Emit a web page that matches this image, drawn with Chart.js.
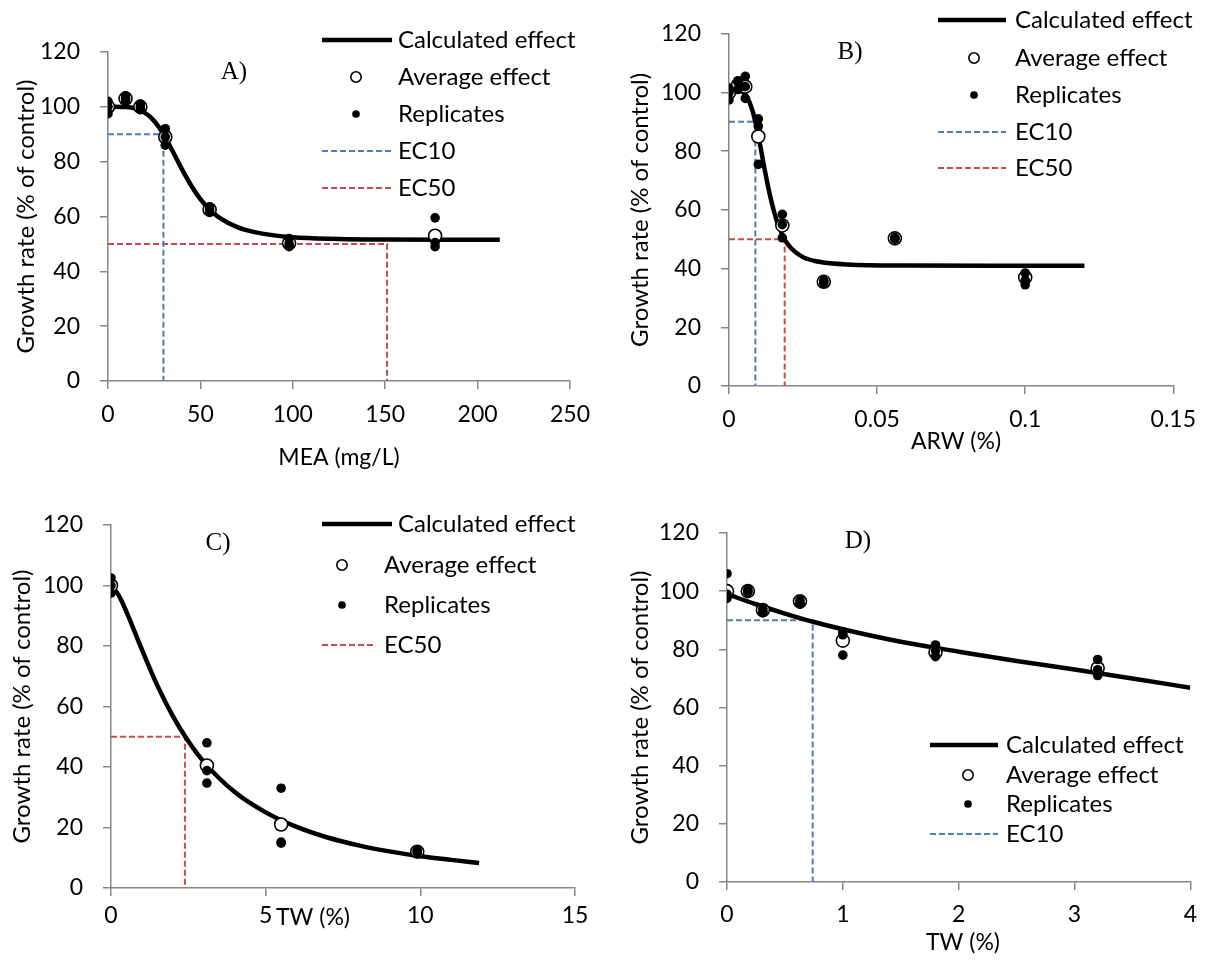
<!DOCTYPE html>
<html>
<head>
<meta charset="utf-8">
<script src="https://cdn.jsdelivr.net/npm/chart.js@4.4.0/dist/chart.umd.min.js"></script>
<style>
  html, body { margin: 0; padding: 0; background: #fff; }
  #page { position: relative; width: 1208px; height: 960px; }
  .panel { position: absolute; width: 604px; height: 480px; }
</style>
</head>
<body>
<div id="page">
  <div class="panel" style="left:0;top:0"><canvas id="chartA" width="604" height="480"></canvas></div>
  <div class="panel" style="left:604px;top:0"><canvas id="chartB" width="604" height="480"></canvas></div>
  <div class="panel" style="left:0;top:480px"><canvas id="chartC" width="604" height="480"></canvas></div>
  <div class="panel" style="left:604px;top:480px"><canvas id="chartD" width="604" height="480"></canvas></div>
</div>
<script>
// ---- panel A: MEA (mg/L)
const concA = [0, 9.5, 17.5, 31, 55, 98, 177];
const avgA = [100, 103, 100, 89, 62.5, 50.3, 53];
const repA = [[102, 100, 97.5], [104, 103, 102], [101, 100, 99], [92, 89, 86], [63.5, 62.5, 61.5], [52, 50, 49], [59.5, 50.5, 49]];
const curveXA = [0, 10, 20, 25, 30, 35, 40, 45, 50, 55, 60, 70, 80, 100, 125, 150, 180, 212];
const curveYA = [100, 99.9, 97.8, 94.8, 90, 83.8, 77.3, 71.3, 66.3, 62.5, 59.7, 56.1, 54.2, 52.4, 51.8, 51.6, 51.5, 51.5];
const ec10A = [30, 90];
const ec50A = [151, 50];
const xTicksA = ['0', '50', '100', '150', '200', '250'];

// ---- panel B: ARW (%)
const concB = [0, 0.003, 0.0055, 0.0099, 0.018, 0.032, 0.056, 0.1];
const avgB = [100, 102.5, 102, 85, 54.7, 35.5, 50.3, 37];
const repB = [[97.5, 100, 101.5], [101, 103.5, 104], [105.5, 102, 98], [91, 88.5, 75.5], [58.5, 55, 50.5], [35, 36, 35.5], [50, 50.5, 50.5], [38.5, 36, 34.5]];
const curveXB = [0, 0.004, 0.006, 0.008, 0.01, 0.012, 0.014, 0.016, 0.018, 0.02, 0.025, 0.03, 0.04, 0.06, 0.09, 0.12];
const curveYB = [101, 100.6, 98.6, 93.6, 84.8, 74, 64.2, 56.7, 51.5, 48.1, 43.9, 42.4, 41.4, 41.05, 41, 41];
const ec10B = [0.0089, 90];
const ec50B = [0.0188, 50];
const xTicksB = ['0', '0.05', '0.1', '0.15'];

// ---- panel C: TW (%)
const concC = [0, 3.1, 5.5, 9.9];
const avgC = [100, 40.5, 21, 12];
const repC = [[102.5, 100, 97.5], [48, 38.8, 34.7], [33, 15.2, 14.8], [12.5, 12, 11.5]];
const curveXC = [0, 0.25, 0.5, 1, 1.5, 2, 2.5, 3, 4, 5, 6, 7, 8, 9, 10, 11, 11.9];
const curveYC = [100, 96.7, 91.3, 78.8, 66.9, 56.8, 48.5, 41.7, 31.7, 25, 20.2, 16.7, 14.1, 12.1, 10.5, 9.3, 8.3];
const ec50C = [2.39, 50];
const xTicksC = ['0', '5', '10', '15'];

// ---- panel D: TW (%)
const concD = [0, 0.18, 0.31, 0.63, 1.0, 1.8, 3.2];
const avgD = [100, 100, 93.5, 96.5, 83, 79, 73.5];
const repD = [[106, 99, 97.5], [100.5, 99.5, 100], [94, 93, 92.5], [97, 96, 95.5], [86, 85, 78], [81.5, 79.5, 77.5], [76.5, 73, 71]];
const curveXD = [0, 0.25, 0.5, 0.75, 1, 1.5, 2, 2.5, 3, 3.5, 4];
const curveYD = [99, 95.5, 92.3, 89.4, 86.9, 82.6, 79.2, 76, 73.1, 70, 66.8];
const ec10D = [0.74, 90];
const xTicksD = ['0', '1', '2', '3', '4'];

const yTicks = ['0', '20', '40', '60', '80', '100', '120'];

const FONT = 'Lato';
const AXIS = '#868686';
const BLUE = '#4A7EBB';
const RED = '#C0504D';

function pts(xs, ys) {
  return xs.map((x, i) => ({ x: x, y: ys[i] }));
}
function repPts(xs, reps) {
  const out = [];
  xs.forEach((x, i) => reps[i].forEach((v) => out.push({ x: x, y: v })));
  return out;
}
function ecPath(ec) {
  return [{ x: 0, y: ec[1] }, { x: ec[0], y: ec[1] }, { x: ec[0], y: 0 }];
}
function pick(v, i) {
  return Array.isArray(v) ? v[i] : v;
}

// legend drawn inside the plot, Excel style
const boxLegend = {
  id: 'boxLegend',
  afterDraw(chart, args, opts) {
    const ctx = chart.ctx;
    ctx.save();
    ctx.font = '24px ' + FONT;
    ctx.textBaseline = 'middle';
    ctx.textAlign = 'left';
    opts.labels.forEach((label, i) => {
      const ds = chart.data.datasets.find((d) => d.label === label);
      const y = opts.rows[i];
      if (ds.showLine) {
        ctx.beginPath();
        ctx.setLineDash(ds.borderDash || []);
        ctx.lineWidth = ds.borderWidth;
        ctx.strokeStyle = ds.borderColor;
        ctx.moveTo(pick(opts.x0, i), y);
        ctx.lineTo(pick(opts.x1, i), y);
        ctx.stroke();
        ctx.setLineDash([]);
      } else {
        ctx.beginPath();
        ctx.arc(opts.mx, y, ds.pointRadius * 0.8, 0, Math.PI * 2);
        ctx.fillStyle = ds.backgroundColor;
        ctx.fill();
        ctx.lineWidth = ds.borderWidth;
        ctx.strokeStyle = ds.borderColor;
        if (ds.borderWidth) ctx.stroke();
      }
      ctx.fillStyle = '#000';
      ctx.fillText(label, pick(opts.tx, i), y);
    });
    ctx.restore();
  }
};

// panel letter and x axis caption
const captions = {
  id: 'captions',
  afterDraw(chart, args, opts) {
    const ctx = chart.ctx;
    ctx.save();
    ctx.textAlign = 'center';
    ctx.textBaseline = 'middle';
    ctx.fillStyle = '#000';
    ctx.font = '25px "Liberation Serif"';
    ctx.fillText(opts.tag[0], opts.tag[1], opts.tag[2]);
    ctx.font = '23px ' + FONT;
    ctx.fillText(opts.xTitle[0], opts.xTitle[1], opts.xTitle[2]);
    ctx.restore();
  }
};

function makeChart(id, p) {
  const datasets = [
    {
      label: 'Calculated effect',
      data: pts(p.curveX, p.curveY),
      showLine: true,
      borderColor: '#000',
      borderWidth: 4.5,
      pointRadius: 0,
      cubicInterpolationMode: 'monotone',
      order: 3,
    },
    {
      label: 'Average effect',
      data: pts(p.conc, p.avg),
      showLine: false,
      pointRadius: 6.5,
      borderWidth: 1.6,
      borderColor: '#000',
      backgroundColor: '#fff',
      order: 1,
    },
    {
      label: 'Replicates',
      data: repPts(p.conc, p.reps),
      showLine: false,
      pointRadius: 4.8,
      borderWidth: 0,
      borderColor: '#000',
      backgroundColor: '#000',
      order: 0,
    },
  ];
  if (p.ec10) {
    datasets.push({
      label: 'EC10',
      data: ecPath(p.ec10),
      showLine: true,
      borderColor: BLUE,
      borderDash: [6, 3],
      borderWidth: 2,
      pointRadius: 0,
      order: 4,
    });
  }
  if (p.ec50) {
    datasets.push({
      label: 'EC50',
      data: ecPath(p.ec50),
      showLine: true,
      borderColor: RED,
      borderDash: [6, 3],
      borderWidth: 2,
      pointRadius: 0,
      order: 4,
    });
  }

  const ctx = document.getElementById(id).getContext('2d');
  return new Chart(ctx, {
    type: 'scatter',
    data: { datasets: datasets },
    plugins: [boxLegend, captions],
    options: {
      responsive: false,
      animation: false,
      layout: { padding: { left: 0, top: p.area.top, right: 604 - p.area.right, bottom: 0 } },
      scales: {
        x: {
          type: 'linear',
          min: 0,
          max: p.xMax,
          afterBuildTicks: (s) => { s.ticks = p.xTicks.map((t) => ({ value: Number(t) })); },
          ticks: {
            padding: p.xPad,
            color: '#000',
            font: { family: FONT, size: 23 },
            callback: (v, i) => p.xTicks[i],
          },
          grid: { drawOnChartArea: false, drawTicks: true, tickLength: 8, color: AXIS, lineWidth: 1.5 },
          border: { color: AXIS, width: 1.5 },
          afterFit: (s) => { s.height = 480 - p.area.bottom; },
        },
        y: {
          min: 0,
          max: 120,
          afterBuildTicks: (s) => { s.ticks = yTicks.map((t) => ({ value: Number(t) })); },
          ticks: {
            padding: 20,
            color: '#000',
            font: { family: FONT, size: 23 },
            callback: (v, i) => yTicks[i],
          },
          grid: { drawOnChartArea: false, drawTicks: true, tickLength: 8, color: AXIS, lineWidth: 1.5 },
          border: { color: AXIS, width: 1.5 },
          title: {
            display: true,
            text: 'Growth rate (% of control)',
            color: '#000',
            font: { family: FONT, size: 24 },
            padding: { top: p.yTitlePad, bottom: 0 },
          },
          afterFit: (s) => { s.width = p.area.left; },
        },
      },
      plugins: {
        legend: { display: false },
        tooltip: { enabled: false },
        boxLegend: p.legend,
        captions: { tag: p.tag, xTitle: p.xTitle },
      },
    },
  });
}

const chartA = makeChart('chartA', {
  conc: concA, avg: avgA, reps: repA, curveX: curveXA, curveY: curveYA, ec10: ec10A, ec50: ec50A,
  xMax: 250, xTicks: xTicksA, xPad: 12, yTitlePad: 12,
  area: { left: 108, right: 570, top: 52, bottom: 381 },
  legend: { labels: ['Calculated effect', 'Average effect', 'Replicates', 'EC10', 'EC50'], rows: [40, 77, 114, 151, 188], x0: 322, x1: 392, mx: 356, tx: 398 },
  tag: ['A)', 234, 72],
  xTitle: ['MEA (mg/L)', 339, 458],
});

const chartB = makeChart('chartB', {
  conc: concB, avg: avgB, reps: repB, curveX: curveXB, curveY: curveYB, ec10: ec10B, ec50: ec50B,
  xMax: 0.15, xTicks: xTicksB, xPad: 12, yTitlePad: 22,
  area: { left: 125, right: 579, top: 22, bottom: 386 },
  legend: { labels: ['Calculated effect', 'Average effect', 'Replicates', 'EC10', 'EC50'], rows: [20, 58, 95, 132, 168], x0: 334, x1: 402, mx: 370, tx: 411 },
  tag: ['B)', 246, 52],
  xTitle: ['ARW (%)', 352, 442],
});

const chartC = makeChart('chartC', {
  conc: concC, avg: avgC, reps: repC, curveX: curveXC, curveY: curveYC, ec50: ec50C,
  xMax: 15, xTicks: xTicksC, xPad: 6, yTitlePad: 8,
  area: { left: 111, right: 575, top: 45, bottom: 408 },
  legend: {
    labels: ['Calculated effect', 'Average effect', 'Replicates', 'EC50'],
    rows: [44, 85, 125, 165],
    x0: 322, x1: [392, 392, 392, 376], mx: 342, tx: [398, 384, 384, 384],
  },
  tag: ['C)', 218, 63],
  xTitle: ['TW (%)', 313, 438],
});

const chartD = makeChart('chartD', {
  conc: concD, avg: avgD, reps: repD, curveX: curveXD, curveY: curveYD, ec10: ec10D,
  xMax: 4, xTicks: xTicksD, xPad: 11, yTitlePad: 22,
  area: { left: 123, right: 595, top: 53, bottom: 402 },
  legend: { labels: ['Calculated effect', 'Average effect', 'Replicates', 'EC10'], rows: [265, 295, 324, 354], x0: 326, x1: 394, mx: 364, tx: 402 },
  tag: ['D)', 254, 61],
  xTitle: ['TW (%)', 359, 463],
});
</script>
</body>
</html>
